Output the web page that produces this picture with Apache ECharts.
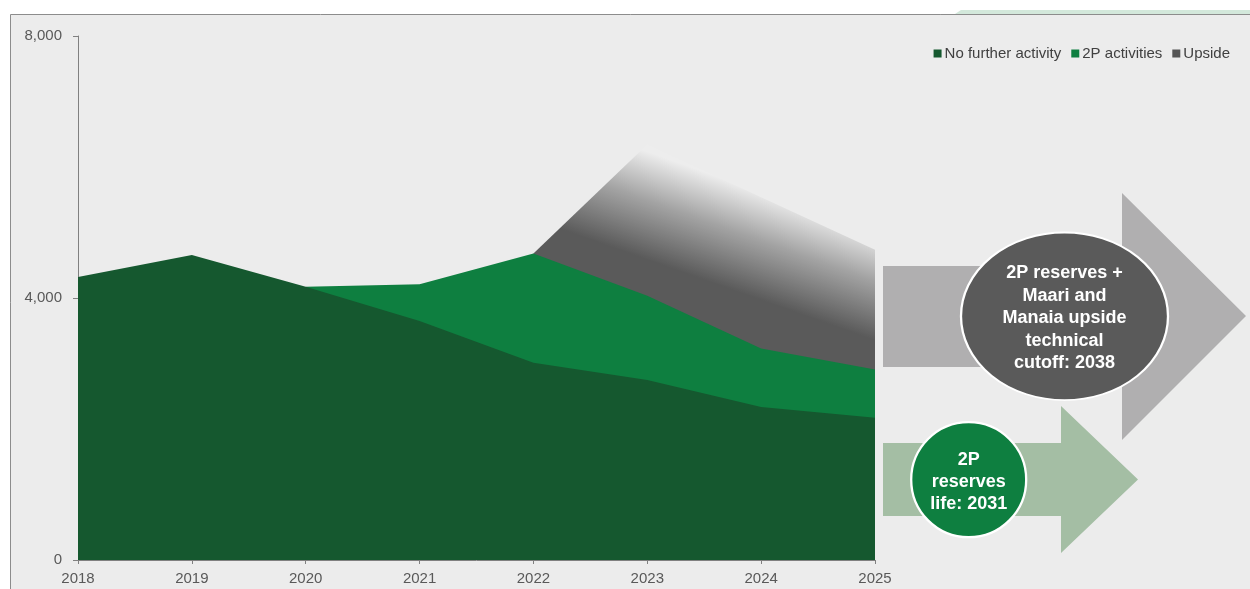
<!DOCTYPE html>
<html>
<head>
<meta charset="utf-8">
<script src="https://cdn.jsdelivr.net/npm/echarts@6/dist/echarts.min.js"></script>
<style>
html,body{margin:0;padding:0;background:#fff;}
#main{width:1250px;height:589px;}
</style>
</head>
<body>
<div id="main"></div>
<script>
// ---- data (levels) ----
const years = ['2018','2019','2020','2021','2022','2023','2024','2025'];
const noFurtherActivity = [4320, 4655, 4170, 3650, 3010, 2750, 2335, 2170];
const twoPActivitiesTotal = ['-', '-', 4170, 4210, 4680, 4035, 3230, 2910];
const upsideTotal = ['-', '-', '-', '-', 4680, 6345, 5540, 4735];
const seriesNames = ['No further activity', '2P activities', 'Upside'];
const yTicks = [0, 4000, 8000];
const bigCircleText = '2P reserves +\nMaari and\nManaia upside\ntechnical\ncutoff: 2038';
const smallCircleText = '2P\nreserves\nlife: 2031';

const C_DARK = '#15582f';
const C_GREEN = '#0e7f40';
const FONT = 'Liberation Sans, Arial, sans-serif';

const chart = echarts.init(document.getElementById('main'), null, {renderer: 'canvas'});

const upsideGradient = new echarts.graphic.LinearGradient(750, 188, 716, 284, [
  {offset: 0, color: '#ededed'},
  {offset: 0.45, color: '#a3a3a3'},
  {offset: 1, color: '#5a5a5a'}
], true);

const option = {
  backgroundColor: '#ffffff',
  animation: false,
  textStyle: {fontFamily: FONT},
  grid: {left: 78, right: 375, top: 36, bottom: 29, containLabel: false},
  legend: {
    data: [
      {name: seriesNames[0], itemStyle: {color: C_DARK}},
      {name: seriesNames[1], itemStyle: {color: C_GREEN}},
      {name: seriesNames[2], itemStyle: {color: '#555555'}}
    ],
    right: 15, top: 41,
    icon: 'rect', itemWidth: 8, itemHeight: 8, itemGap: 10,
    textStyle: {fontSize: 15, color: '#404040', fontFamily: FONT, padding: [0, 0, 0, -2]}
  },
  xAxis: {
    type: 'category',
    data: years,
    boundaryGap: false,
    axisLine: {show: true, lineStyle: {color: '#808080', width: 1}},
    axisTick: {show: true, length: 4, alignWithLabel: true, lineStyle: {color: '#808080'}},
    axisLabel: {fontSize: 15, color: '#595959', margin: 11, fontFamily: FONT},
    splitLine: {show: false}
  },
  yAxis: {
    type: 'value',
    min: 0, max: 8000, interval: 4000,
    axisLine: {show: true, lineStyle: {color: '#808080', width: 1}},
    axisTick: {show: true, length: 5, lineStyle: {color: '#808080'}},
    axisLabel: {
      fontSize: 15, color: '#595959', margin: 16, fontFamily: FONT,
      formatter: v => yTicks.includes(v) ? v.toLocaleString('en-US') : ''
    },
    splitLine: {show: false}
  },
  series: [
    {
      name: seriesNames[2], type: 'line', data: upsideTotal,
      symbol: 'none', lineStyle: {width: 0}, z: 2,
      itemStyle: {color: '#555555'},
      areaStyle: {color: upsideGradient, opacity: 1}
    },
    {
      name: seriesNames[1], type: 'line', data: twoPActivitiesTotal,
      symbol: 'none', lineStyle: {width: 0}, z: 3,
      itemStyle: {color: C_GREEN},
      areaStyle: {color: C_GREEN, opacity: 1}
    },
    {
      name: seriesNames[0], type: 'line', data: noFurtherActivity,
      symbol: 'none', lineStyle: {width: 0}, z: 4,
      itemStyle: {color: C_DARK},
      areaStyle: {color: C_DARK, opacity: 1}
    }
  ],
  graphic: [
    {type: 'polygon', z: -2, silent: true,
      shape: {points: [[955, 14], [961, 10], [1250, 10], [1250, 14]]},
      style: {fill: '#d3e8db'}},
    {type: 'rect', z: -1, silent: true,
      shape: {x: 10.5, y: 14.5, width: 1260, height: 600},
      style: {fill: '#ececec', stroke: '#8c8c8c', lineWidth: 1}},
    // big gray arrow
    {type: 'polygon', z: 10, silent: true,
      shape: {points: [[883, 266], [1122, 266], [1122, 193], [1246, 316], [1122, 440], [1122, 367], [883, 367]]},
      style: {fill: '#b0afb0'}},
    // light green arrow
    {type: 'polygon', z: 10, silent: true,
      shape: {points: [[883, 443], [1061, 443], [1061, 406], [1138, 479.5], [1061, 553], [1061, 516], [883, 516]]},
      style: {fill: '#a4bea4'}},
    // dark ellipse
    {type: 'circle', z: 11, silent: true, x: 1064.5, y: 316.3, scaleY: 0.81,
      shape: {cx: 0, cy: 0, r: 103.5},
      style: {fill: '#5a5a5a', stroke: '#ffffff', lineWidth: 2.3}},
    {type: 'text', z: 12, silent: true, x: 1064.5, y: 318.5,
      style: {text: bigCircleText, fill: '#ffffff', font: 'bold 18px ' + FONT,
        align: 'center', verticalAlign: 'middle', lineHeight: 22.5}},
    // green circle
    {type: 'circle', z: 11, silent: true,
      shape: {cx: 968.7, cy: 479.7, r: 57.5},
      style: {fill: '#0e7f40', stroke: '#ffffff', lineWidth: 2.3}},
    {type: 'text', z: 12, silent: true, x: 968.7, y: 482,
      style: {text: smallCircleText, fill: '#ffffff', font: 'bold 18px ' + FONT,
        align: 'center', verticalAlign: 'middle', lineHeight: 22}}
  ]
};
chart.setOption(option);
</script>
</body>
</html>
